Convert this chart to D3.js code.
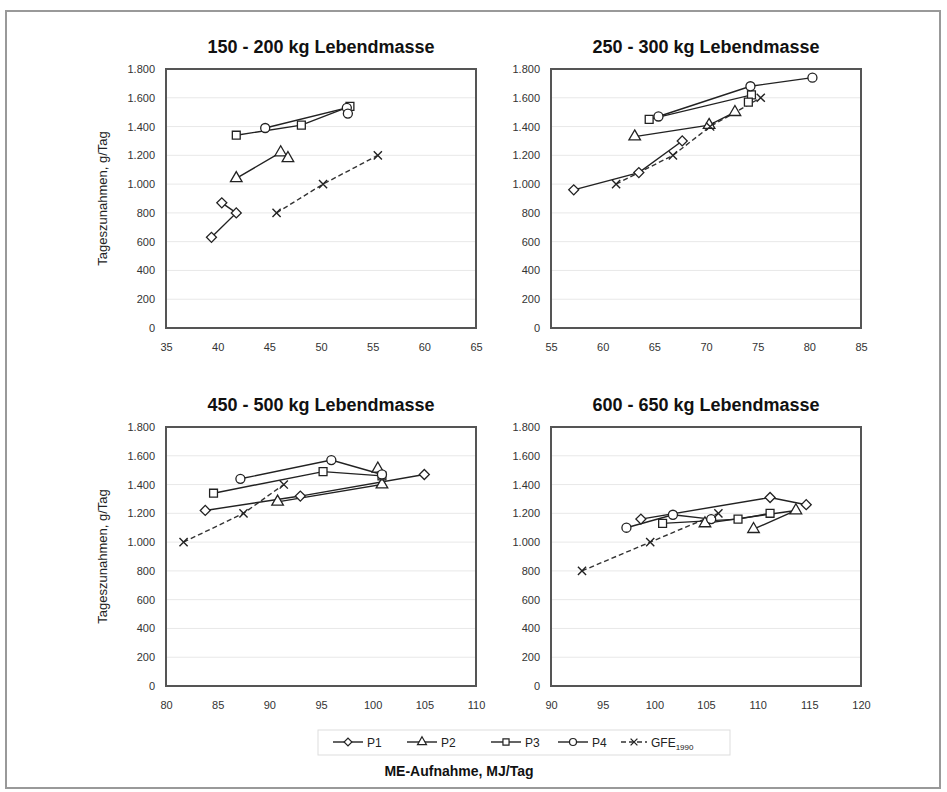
<!DOCTYPE html>
<html>
<head>
<meta charset="utf-8">
<script src="https://cdn.jsdelivr.net/npm/d3@7"></script>
<style>
  body { margin: 0; background: #fff; }
  svg { display: block; font-family: "Liberation Sans", Arial, sans-serif; }
  .grid line { stroke: #e8e8e8; stroke-width: 1; }
  .tick text { fill: #333; font-size: 11px; }
</style>
</head>
<body>
<div id="chart"></div>
<script>
// chart titles and axis ranges
var panelTitles = ["150 - 200 kg Lebendmasse", "250 - 300 kg Lebendmasse",
                   "450 - 500 kg Lebendmasse", "600 - 650 kg Lebendmasse"];
var xDomains = [[35, 65], [55, 85], [80, 110], [90, 120]];
var yTicks = [0, 200, 400, 600, 800, 1000, 1200, 1400, 1600, 1800];

// one list per series, one entry per panel: [ME MJ/Tag, g/Tag]
var p1Data = [
  [[39.4, 630], [41.8, 800], [40.4, 870]],
  [[57.2, 960], [63.5, 1080], [67.7, 1300]],
  [[83.8, 1220], [93.0, 1320], [105.0, 1470]],
  [[98.7, 1160], [111.2, 1310], [114.7, 1260]]
];
var p2Data = [
  [[41.8, 1040], [46.1, 1220], [46.8, 1180]],
  [[63.1, 1330], [70.3, 1410], [72.8, 1500]],
  [[90.8, 1280], [100.9, 1400], [100.5, 1510]],
  [[104.9, 1130], [113.7, 1220], [109.6, 1090]]
];
var p3Data = [
  [[41.8, 1340], [48.1, 1410], [52.8, 1540]],
  [[64.5, 1450], [74.4, 1620], [74.1, 1570]],
  [[84.6, 1340], [95.2, 1490], [100.9, 1460]],
  [[100.8, 1130], [108.1, 1160], [111.2, 1200]]
];
var p4Data = [
  [[44.6, 1390], [52.5, 1530], [52.6, 1490]],
  [[65.4, 1470], [74.3, 1680], [80.3, 1740]],
  [[87.2, 1440], [96.0, 1570], [100.9, 1470]],
  [[97.3, 1100], [101.8, 1190], [105.5, 1160]]
];
var gfeData = [
  [[45.7, 800], [50.2, 1000], [55.5, 1200]],
  [[61.3, 1000], [66.8, 1200], [70.4, 1400], [75.3, 1600]],
  [[81.7, 1000], [87.5, 1200], [91.4, 1400]],
  [[93.0, 800], [99.6, 1000], [106.2, 1200]]
];
var seriesNames = ["P1", "P2", "P3", "P4", "GFE"];

var width = 947, height = 792;

var svg = d3.select("#chart").append("svg")
  .attr("width", width)
  .attr("height", height);

// outer frame
svg.append("rect")
  .attr("x", 6).attr("y", 11)
  .attr("width", 934).attr("height", 777)
  .attr("fill", "none")
  .attr("stroke", "#999")
  .attr("stroke-width", 2);

var de = d3.formatLocale({ decimal: ",", thousands: ".", grouping: [3], currency: ["", " €"] });
var fmt = de.format(",");

var boxes = [
  { x0: 166, x1: 476, y0: 69, y1: 328, yTitle: true },
  { x0: 551, x1: 861, y0: 69, y1: 328, yTitle: false },
  { x0: 166, x1: 476, y0: 427, y1: 686, yTitle: true },
  { x0: 551, x1: 861, y0: 427, y1: 686, yTitle: false }
];

// diamond = square turned by 45 degrees
var symbols = [
  { type: d3.symbolSquare, size: 50, rot: 45 },
  { type: d3.symbolTriangle, size: 58, rot: 0 },
  { type: d3.symbolSquare, size: 62, rot: 0 },
  { type: d3.symbolCircle, size: 64, rot: 0 }
];

boxes.forEach(function (b, i) {
  var x = d3.scaleLinear().domain(xDomains[i]).range([b.x0, b.x1]);
  var y = d3.scaleLinear().domain([0, 1800]).range([b.y1, b.y0]);
  var g = svg.append("g");

  // grid
  g.append("g").attr("class", "grid")
    .selectAll("line").data(yTicks.slice(1, -1)).enter().append("line")
    .attr("x1", b.x0).attr("x2", b.x1)
    .attr("y1", function (d) { return y(d); })
    .attr("y2", function (d) { return y(d); });

  // axes
  var xAxis = d3.axisBottom(x).tickValues(d3.range(xDomains[i][0], xDomains[i][1] + 1, 5))
    .tickSize(0).tickPadding(15);
  g.append("g").attr("transform", "translate(0," + b.y1 + ")").call(xAxis)
    .call(function (s) { s.select(".domain").remove(); });
  var yAxis = d3.axisLeft(y).tickValues(yTicks).tickSize(0).tickPadding(11).tickFormat(fmt);
  g.append("g").attr("transform", "translate(" + b.x0 + ",0)").call(yAxis)
    .call(function (s) { s.select(".domain").remove(); });

  // plot box
  g.append("rect")
    .attr("x", b.x0).attr("y", b.y0)
    .attr("width", b.x1 - b.x0).attr("height", b.y1 - b.y0)
    .attr("fill", "none").attr("stroke", "#555").attr("stroke-width", 2);

  // title
  g.append("text")
    .attr("x", (b.x0 + b.x1) / 2).attr("y", b.y0 - 16)
    .attr("text-anchor", "middle")
    .attr("font-size", "18px").attr("font-weight", "bold").attr("fill", "#111")
    .text(panelTitles[i]);

  if (b.yTitle) {
    g.append("text")
      .attr("transform", "translate(107," + (b.y0 + b.y1) / 2 + ") rotate(-90)")
      .attr("text-anchor", "middle")
      .attr("font-size", "13px").attr("fill", "#222")
      .text("Tageszunahmen, g/Tag");
  }

  var line = d3.line().x(function (d) { return x(d[0]); }).y(function (d) { return y(d[1]); });

  // GFE dashed line
  g.append("path").datum(gfeData[i])
    .attr("d", line).attr("fill", "none")
    .attr("stroke", "#333").attr("stroke-width", 1.4).attr("stroke-dasharray", "5,3");

  [p1Data, p2Data, p3Data, p4Data].forEach(function (series) {
    g.append("path").datum(series[i])
      .attr("d", line).attr("fill", "none")
      .attr("stroke", "#222").attr("stroke-width", 1.4);
  });

  [p1Data, p2Data, p3Data, p4Data].forEach(function (series, k) {
    g.selectAll(null).data(series[i]).enter().append("path")
      .attr("transform", function (d) {
        return "translate(" + x(d[0]) + "," + y(d[1]) + ") rotate(" + symbols[k].rot + ")";
      })
      .attr("d", d3.symbol().type(symbols[k].type).size(symbols[k].size))
      .attr("fill", "#fff").attr("stroke", "#222").attr("stroke-width", 1.3);
  });

  g.selectAll(null).data(gfeData[i]).enter().append("path")
    .attr("transform", function (d) { return "translate(" + x(d[0]) + "," + y(d[1]) + ")"; })
    .attr("d", d3.symbol().type(d3.symbolTimes).size(45))
    .attr("fill", "none").attr("stroke", "#222").attr("stroke-width", 1.4);
});

// legend
var legendY = 742;
svg.append("rect")
  .attr("x", 318).attr("y", 730).attr("width", 412).attr("height", 25)
  .attr("fill", "none").attr("stroke", "#ddd").attr("stroke-width", 1);

var legendX = [333, 407, 491, 558, 621];
seriesNames.forEach(function (name, k) {
  var lg = svg.append("g").attr("transform", "translate(" + legendX[k] + "," + legendY + ")");
  if (k < 4) {
    lg.append("line").attr("x1", 0).attr("x2", 30).attr("y1", 0).attr("y2", 0)
      .attr("stroke", "#222").attr("stroke-width", 1.4);
    lg.append("path").attr("transform", "translate(15,0) rotate(" + symbols[k].rot + ")")
      .attr("d", d3.symbol().type(symbols[k].type).size(symbols[k].size * 0.6))
      .attr("fill", "#fff").attr("stroke", "#222").attr("stroke-width", 1.2);
    lg.append("text").attr("x", 34).attr("y", 4.5)
      .attr("font-size", "12px").attr("fill", "#222").text(name);
  } else {
    lg.append("line").attr("x1", 0).attr("x2", 26).attr("y1", 0).attr("y2", 0)
      .attr("stroke", "#333").attr("stroke-width", 1.4).attr("stroke-dasharray", "5,3");
    lg.append("path").attr("transform", "translate(13,0)")
      .attr("d", d3.symbol().type(d3.symbolTimes).size(32))
      .attr("fill", "none").attr("stroke", "#222").attr("stroke-width", 1.3);
    var t = lg.append("text").attr("x", 30).attr("y", 4.5)
      .attr("font-size", "12px").attr("fill", "#222");
    t.append("tspan").text("GFE");
    t.append("tspan").attr("font-size", "8px").attr("dy", 3).text("1990");
  }
});

svg.append("text")
  .attr("x", 459).attr("y", 776)
  .attr("text-anchor", "middle")
  .attr("font-size", "14px").attr("font-weight", "bold").attr("fill", "#111")
  .text("ME-Aufnahme, MJ/Tag");
</script>
</body>
</html>
